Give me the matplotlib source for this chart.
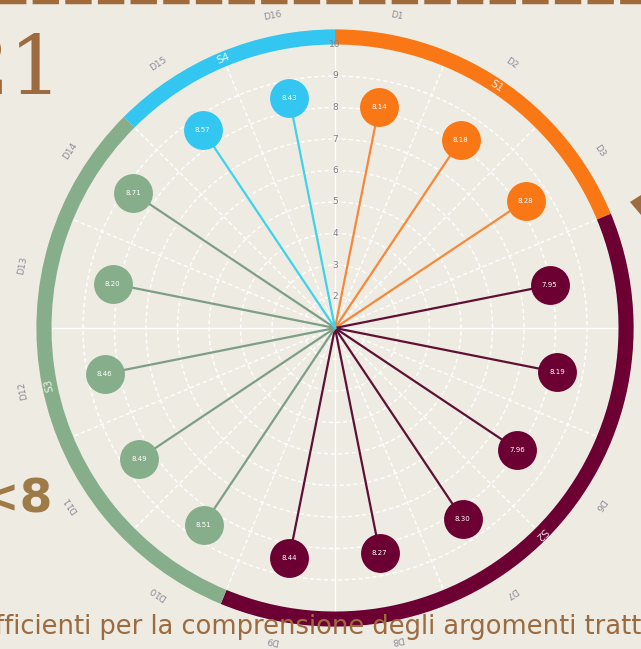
import numpy as np
import matplotlib
matplotlib.use("Agg")
import matplotlib.pyplot as plt
from matplotlib.lines import Line2D
from matplotlib.patches import Polygon

plt.rcParams['lines.scale_dashes'] = False

# ---------------------------------------------------------------------------
# DATA
# ---------------------------------------------------------------------------
domande = ["D1", "D2", "D3", "D4", "D5", "D6", "D7", "D8",
           "D9", "D10", "D11", "D12", "D13", "D14", "D15", "D16"]
punteggi = [8.14, 8.18, 8.28, 7.95, 8.19, 7.96, 8.30, 8.27,
            8.44, 8.51, 8.49, 8.46, 8.20, 8.71, 8.57, 8.43]
sezione = ["S1", "S1", "S1", "S2", "S2", "S2", "S2", "S2",
           "S2", "S3", "S3", "S3", "S3", "S3", "S4", "S4"]
sezioni = ["S1", "S2", "S3", "S4"]
r_ticks = [2, 3, 4, 5, 6, 7, 8, 9, 10]

colori_anello = {"S1": "#FA7716", "S2": "#6C0033", "S3": "#86AE8A", "S4": "#33C6F0"}
colori_stelo = {"S1": "#F5893A", "S2": "#5E1035", "S3": "#7E9E86", "S4": "#3FD2EA"}

BG = "#EEEBE3"
BROWN = "#9C6B3F"

W, H = 641, 649
cx, cy = 335, 328          # centre in pixels (from top)
R0, R1 = 1.0, 10.5         # radial limits
px_per_unit = 31.5

fig = plt.figure(figsize=(W / 100, H / 100), dpi=100, facecolor=BG)

# ---------------------------------------------------------------------------
# slide decorations (the chart is cropped from a slide)
# ---------------------------------------------------------------------------
fig.add_artist(Line2D([0, 1], [1 - 2 / H, 1 - 2 / H], color="#A06A3A",
                      linewidth=3.2, dashes=(19, 4.5), solid_capstyle="butt",
                      dash_capstyle="butt", transform=fig.transFigure))
fig.text(62 / W, 1 - 72 / H, "21", fontsize=60, family="DejaVu Serif",
         color=BROWN, ha="right", va="center")
fig.text(52 / W, 1 - 500 / H, "<8", fontsize=34, fontweight="bold",
         color="#9E7A47", ha="right", va="center")
fig.text(-5 / W, 1 - 627 / H, "fficienti per la comprensione degli argomenti tratt",
         fontsize=18.5, color=BROWN, ha="left", va="center")
fig.add_artist(Polygon([[630 / W, 1 - 202 / H], [641 / W, 1 - 195 / H],
                        [641 / W, 1 - 215 / H]], closed=True,
                       facecolor="#9C6B3F", edgecolor="none",
                       transform=fig.transFigure))

# ---------------------------------------------------------------------------
# polar lollipop
# ---------------------------------------------------------------------------
rad_px = (R1 - R0) * px_per_unit
ax = fig.add_axes([(cx - rad_px) / W, (H - cy - rad_px) / H,
                   2 * rad_px / W, 2 * rad_px / H], projection="polar")
ax.set_facecolor("none")
ax.set_theta_zero_location("N")
ax.set_theta_direction(-1)
ax.set_ylim(R0, R1)
ax.set_rorigin(R0)
ax.spines["polar"].set_visible(False)
ax.set_xticks(np.deg2rad(np.arange(0, 360, 22.5)))
ax.set_xticklabels([])
ax.set_yticks(r_ticks)
ax.set_yticklabels([])
ax.grid(False)

n = len(domande)
step = 2 * np.pi / n
theta = np.arange(n) * step + step / 2

# grid: dashed white rings and spokes
tt = np.linspace(0, 2 * np.pi, 400)
for r in r_ticks[:-1]:
    ax.plot(tt, np.full_like(tt, r), color="white", lw=1.0, ls=(0, (3, 2)), zorder=1)
for k in range(n):
    a = k * step
    ls = "-" if k % 4 == 0 else (0, (3, 2))
    ax.plot([a, a], [R0, 10], color="white", lw=1.0, ls=ls, zorder=1)

# radial tick labels along the 0 degree spoke
for r in r_ticks:
    ax.text(0, r, str(r), fontsize=6.5, color="#7f7f8c", ha="center",
            va="center", zorder=8)

# outer ring per section
for s in sezioni:
    idx = [i for i, v in enumerate(sezione) if v == s]
    start = min(idx) * step
    width = len(idx) * step
    ax.bar(start, 0.48, width=width, bottom=10.0, align="edge",
           color=colori_anello[s], edgecolor="none", zorder=3)
    mid = start + width / 2
    rot = -np.rad2deg(mid)
    ax.text(mid, 10.24, s, fontsize=7.5, color="white", alpha=0.85,
            rotation=rot, rotation_mode="anchor", ha="center", va="center",
            zorder=4)

# question labels outside the ring
for th, d in zip(theta, domande):
    ax.text(th, 11.1, d, fontsize=6.5, color="#8c8a98", rotation=-np.rad2deg(th),
            rotation_mode="anchor", ha="center", va="center", clip_on=False)

# stems and dots
for th, v, s in zip(theta, punteggi, sezione):
    ax.plot([th, th], [R0, v], color=colori_stelo[s], lw=1.6, zorder=5)
    ax.plot([th], [v], "o", ms=28, color=colori_anello[s], mec="none", zorder=6)
    ax.text(th, v, f"{v:.2f}", fontsize=5, color="white", ha="center",
            va="center", zorder=7)

plt.savefig("out.png", dpi=100, facecolor=BG)
